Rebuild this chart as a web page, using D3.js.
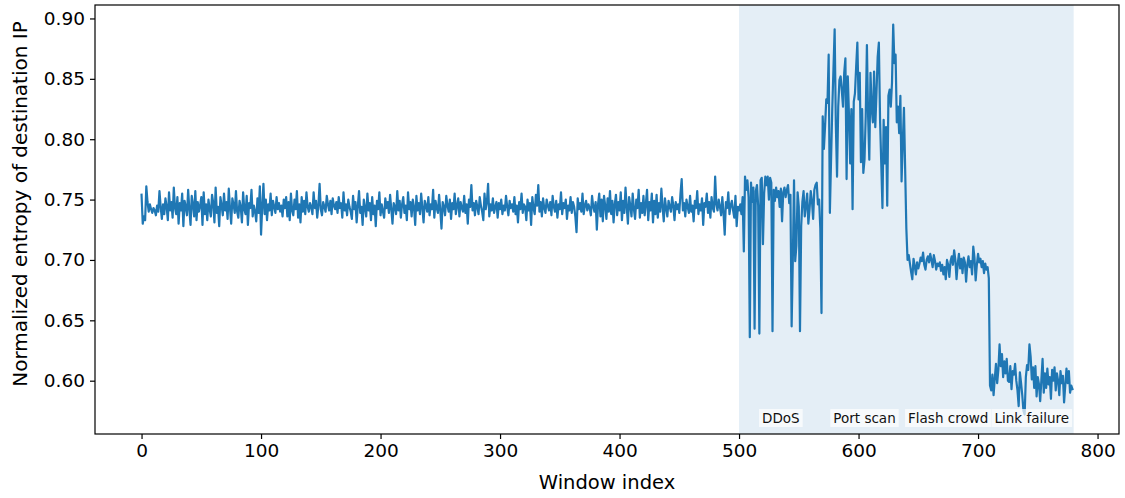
<!DOCTYPE html>
<html>
<head>
<meta charset="utf-8">
<script src="https://cdn.jsdelivr.net/npm/d3@7"></script>
<style>
  body { margin: 0; background: #fff; }
  svg text { font-family: "DejaVu Sans", sans-serif; }
</style>
</head>
<body>
<svg id="chart" width="1125" height="498"></svg>
<script>
// Normalized entropy of destination IP per window, grouped by traffic phase.
const normalTraffic = [
  0.754,0.730,0.736,0.733,0.761,0.748,0.740,0.746,0.742,0.739,0.743,0.741,0.737,0.745,0.740,0.757,0.744,0.734,0.746,0.738,
  0.751,0.744,0.733,0.756,0.741,0.748,0.735,0.760,0.743,0.738,0.752,0.730,0.747,0.741,0.755,0.728,0.749,0.744,0.737,0.758,
  0.742,0.729,0.753,0.746,0.736,0.757,0.733,0.748,0.740,0.745,0.752,0.729,0.756,0.738,0.746,0.733,0.750,0.742,0.736,0.754,
  0.747,0.731,0.760,0.739,0.744,0.728,0.752,0.745,0.737,0.755,0.741,0.748,0.734,0.759,0.743,0.730,0.751,0.746,0.739,0.757,
  0.740,0.735,0.749,0.744,0.731,0.756,0.742,0.738,0.753,0.729,0.747,0.743,0.758,0.736,0.745,0.740,0.732,0.751,0.739,0.761,
  0.721,0.744,0.763,0.738,0.750,0.733,0.746,0.741,0.755,0.737,0.749,0.744,0.739,0.752,0.742,0.747,0.740,0.745,0.736,0.750,
  0.743,0.752,0.736,0.748,0.733,0.755,0.741,0.737,0.750,0.742,0.757,0.735,0.746,0.731,0.752,0.740,0.749,0.738,0.756,0.744,
  0.740,0.747,0.744,0.738,0.756,0.743,0.749,0.735,0.745,0.763,0.742,0.737,0.748,0.744,0.740,0.753,0.746,0.741,0.749,0.738,
  0.751,0.745,0.742,0.748,0.739,0.752,0.743,0.747,0.735,0.756,0.741,0.746,0.737,0.750,0.744,0.740,0.734,0.753,0.742,0.748,
  0.731,0.745,0.757,0.739,0.744,0.729,0.750,0.743,0.736,0.755,0.741,0.747,0.733,0.752,0.738,0.745,0.728,0.749,0.742,0.756,
  0.737,0.746,0.740,0.735,0.751,0.743,0.748,0.739,0.754,0.742,0.730,0.747,0.744,0.738,0.757,0.741,0.749,0.735,0.746,0.752,
  0.739,0.745,0.733,0.756,0.742,0.748,0.736,0.750,0.744,0.729,0.753,0.741,0.747,0.738,0.755,0.743,0.731,0.749,0.745,0.740,
  0.752,0.737,0.746,0.742,0.758,0.735,0.749,0.743,0.739,0.754,0.741,0.726,0.748,0.744,0.737,0.753,0.745,0.740,0.750,0.734,
  0.747,0.742,0.755,0.738,0.745,0.751,0.736,0.748,0.743,0.740,0.753,0.739,0.746,0.730,0.750,0.744,0.762,0.741,0.747,0.737,
  0.749,0.744,0.738,0.752,0.745,0.740,0.733,0.755,0.742,0.748,0.763,0.736,0.746,0.741,0.751,0.739,0.744,0.748,0.735,0.747,
  0.742,0.750,0.738,0.745,0.741,0.753,0.744,0.737,0.749,0.743,0.746,0.740,0.752,0.738,0.745,0.731,0.748,0.742,0.755,0.739,
  0.746,0.744,0.733,0.750,0.741,0.747,0.729,0.752,0.743,0.738,0.754,0.745,0.762,0.740,0.748,0.736,0.751,0.743,0.739,0.750,
  0.745,0.741,0.748,0.737,0.753,0.744,0.740,0.749,0.735,0.746,0.742,0.756,0.738,0.747,0.743,0.750,0.734,0.745,0.741,0.752,
  0.739,0.748,0.744,0.736,0.723,0.751,0.742,0.747,0.740,0.755,0.738,0.745,0.749,0.741,0.746,0.743,0.737,0.753,0.744,0.740,
  0.748,0.725,0.746,0.755,0.736,0.750,0.732,0.753,0.745,0.734,0.751,0.740,0.757,0.738,0.749,0.731,0.746,0.754,0.737,0.748,
  0.741,0.756,0.733,0.749,0.739,0.760,0.744,0.730,0.752,0.745,0.736,0.755,0.742,0.734,0.750,0.743,0.758,0.735,0.747,0.739,
  0.753,0.737,0.746,0.758,0.733,0.748,0.741,0.755,0.731,0.749,0.738,0.754,0.735,0.747,0.740,0.759,0.744,0.732,0.751,0.743,
  0.736,0.749,0.744,0.740,0.752,0.745,0.733,0.748,0.742,0.746,0.739,0.755,0.767,0.741,0.747,0.736,0.750,0.744,0.739,0.753,
  0.740,0.745,0.732,0.749,0.743,0.757,0.738,0.746,0.741,0.751,0.729,0.747,0.744,0.755,0.739,0.748,0.735,0.752,0.743,0.740,
  0.769,0.746,0.741,0.750,0.744,0.737,0.752,0.739,0.721,0.748,0.743,0.756,0.738,0.745,0.749,0.741,0.735,0.753,0.728,0.744
];
const ddosTraffic = [
  0.741,0.746,0.738,0.752,0.707,0.769,0.758,0.766,0.752,0.636,0.764,0.748,0.760,0.643,0.757,0.762,0.745,0.639,0.766,0.768,
  0.713,0.755,0.769,0.762,0.769,0.750,0.768,0.764,0.641,0.758,0.749,0.760,0.752,0.757,0.744,0.759,0.732,0.756,0.760,0.752,
  0.758,0.762,0.747,0.754,0.645,0.700,0.766,0.699,0.712,0.756,0.744,0.641,0.728,0.748,0.757,0.736,0.745,0.755,0.730,0.742,
  0.757,0.749,0.734,0.758,0.762,0.764,0.746,0.750,0.726,0.656
];
const portScanTraffic = [
  0.819,0.792,0.811,0.833,0.830,0.870,0.739,0.783,0.825,0.858,0.891,0.812,0.769,0.827,0.849,0.852,0.840,0.827,0.855,0.867,
  0.767,0.852,0.820,0.780,0.825,0.742,0.831,0.838,0.860,0.880,0.833,0.855,0.781,0.825,0.772,0.783,0.819,0.878,0.819,0.783,
  0.855,0.825,0.814,0.856,0.810,0.838,0.868,0.880,0.816,0.780,0.743,0.816,0.780,0.810,0.745,0.836,0.841,0.827,0.847,0.895,
  0.863,0.870,0.814,0.827,0.805,0.836,0.765,0.797,0.826,0.775
];
const flashCrowdTraffic = [
  0.726,0.700,0.704,0.697,0.690,0.684,0.701,0.695,0.688,0.698,0.693,0.697,0.702,0.699,0.706,0.696,0.692,0.700,0.703,0.698,
  0.705,0.700,0.694,0.704,0.699,0.692,0.697,0.695,0.698,0.691,0.696,0.688,0.694,0.684,0.700,0.696,0.686,0.699,0.703,0.696,
  0.708,0.700,0.684,0.697,0.705,0.693,0.701,0.689,0.702,0.698,0.682,0.696,0.703,0.694,0.699,0.688,0.711,0.702,0.683,0.696,
  0.705,0.698,0.701,0.694,0.699,0.689,0.697,0.692,0.694,0.685
];
const linkFailureTraffic = [
  0.596,0.592,0.605,0.588,0.602,0.614,0.598,0.609,0.630,0.612,0.622,0.603,0.616,0.606,0.618,0.600,0.599,0.612,0.593,0.608,
  0.605,0.614,0.600,0.592,0.579,0.607,0.598,0.588,0.575,0.572,0.603,0.613,0.609,0.630,0.620,0.601,0.611,0.594,0.612,0.587,
  0.603,0.597,0.583,0.601,0.618,0.590,0.606,0.594,0.610,0.597,0.603,0.585,0.609,0.600,0.611,0.592,0.606,0.600,0.588,0.608,
  0.598,0.604,0.582,0.596,0.610,0.598,0.608,0.590,0.596,0.593
];

// Injected event windows
const eventNames = ["DDoS", "Port scan", "Flash crowd", "Link failure"];
const eventStarts = [500, 570, 640, 710];
const eventEnds = [570, 640, 710, 780];

const xTicks = [0, 100, 200, 300, 400, 500, 600, 700, 800];
const yTicks = [0.60, 0.65, 0.70, 0.75, 0.80, 0.85, 0.90];

const entropy = normalTraffic.concat(ddosTraffic, portScanTraffic, flashCrowdTraffic, linkFailureTraffic);
const series = entropy.map((v, i) => ({ i, v }));

const W = 1125, H = 498;
const margin = { top: 5, right: 6, bottom: 64, left: 95 };
const svg = d3.select("#chart");

const n = entropy.length - 1;
const x = d3.scaleLinear()
  .domain([-0.05 * n, n * 1.05])
  .range([margin.left, W - margin.right]);
const [ymin, ymax] = d3.extent(entropy);
const yr = ymax - ymin;
const y = d3.scaleLinear()
  .domain([ymin - 0.05 * yr, ymax + 0.05 * yr])
  .range([H - margin.bottom, margin.top]);

const plotTop = margin.top, plotBottom = H - margin.bottom;

// Shaded anomaly period
svg.append("rect")
  .attr("x", x(d3.min(eventStarts)))
  .attr("y", plotTop)
  .attr("width", x(d3.max(eventEnds)) - x(d3.min(eventStarts)))
  .attr("height", plotBottom - plotTop)
  .attr("fill", "#1f77b4")
  .attr("fill-opacity", 0.12);

// Entropy line
svg.append("path")
  .datum(series)
  .attr("fill", "none")
  .attr("stroke", "#1f77b4")
  .attr("stroke-width", 2.2)
  .attr("stroke-linejoin", "round")
  .attr("stroke-linecap", "square")
  .attr("d", d3.line().x(d => x(d.i)).y(d => y(d.v)));

// Event labels along the bottom of the plot
const labelY = 418;
const labels = svg.append("g");
eventNames.forEach((name, k) => {
  const cx = x((eventStarts[k] + eventEnds[k]) / 2);
  const g = labels.append("g");
  const t = g.append("text")
    .attr("x", cx)
    .attr("y", labelY)
    .attr("text-anchor", "middle")
    .attr("dominant-baseline", "central")
    .attr("font-size", 13.5)
    .attr("fill", "#111")
    .text(name);
  const bb = t.node().getBBox();
  g.insert("rect", "text")
    .attr("x", bb.x - 3)
    .attr("y", labelY - 9)
    .attr("width", bb.width + 6)
    .attr("height", 18)
    .attr("fill", "#fff")
    .attr("fill-opacity", 0.7);
});

// Axes
const xAxis = svg.append("g")
  .attr("transform", `translate(0,${plotBottom})`)
  .call(d3.axisBottom(x).tickValues(xTicks).tickFormat(d3.format("d")).tickSize(5).tickPadding(5));
const yAxis = svg.append("g")
  .attr("transform", `translate(${margin.left},0)`)
  .call(d3.axisLeft(y).tickValues(yTicks).tickFormat(d3.format(".2f")).tickSize(5).tickPadding(5));
[xAxis, yAxis].forEach(a => {
  a.select(".domain").remove();
  a.selectAll(".tick line").attr("stroke", "#000").attr("stroke-width", 1.2);
  a.selectAll(".tick text").attr("font-size", 18.5).attr("fill", "#000")
    .attr("font-family", "DejaVu Sans, sans-serif");
});

// Frame
svg.append("rect")
  .attr("x", margin.left)
  .attr("y", plotTop)
  .attr("width", W - margin.right - margin.left)
  .attr("height", plotBottom - plotTop)
  .attr("fill", "none")
  .attr("stroke", "#000")
  .attr("stroke-width", 1.2);

// Axis titles
svg.append("text")
  .attr("x", (margin.left + W - margin.right) / 2)
  .attr("y", 482)
  .attr("text-anchor", "middle")
  .attr("dominant-baseline", "central")
  .attr("font-size", 19.5)
  .text("Window index");
svg.append("text")
  .attr("transform", `translate(20,204) rotate(-90)`)
  .attr("text-anchor", "middle")
  .attr("dominant-baseline", "central")
  .attr("font-size", 20)
  .text("Normalized entropy of destination IP");
</script>
</body>
</html>
